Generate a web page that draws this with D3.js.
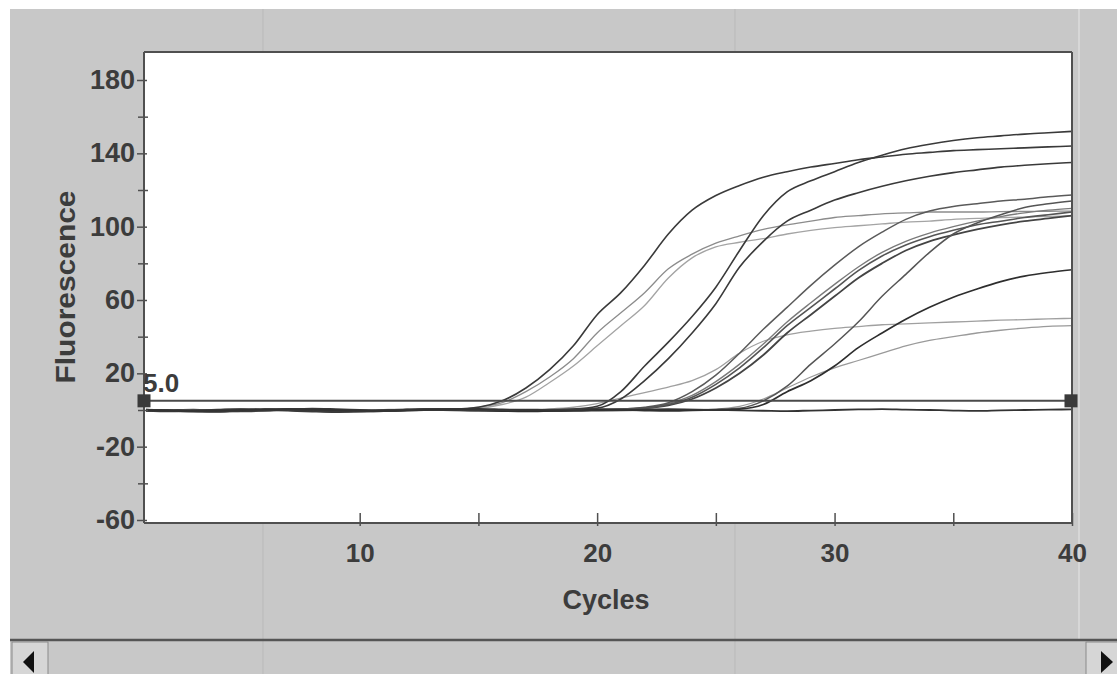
<!DOCTYPE html>
<html><head><meta charset="utf-8">
<script src="https://cdn.jsdelivr.net/npm/d3@7"></script>
<style>html,body{margin:0;padding:0;background:#fff;} svg{display:block}</style>
</head><body>
<svg id="chart" width="1117" height="674"></svg>
<script>
// ---------- data ----------
const cycles = [1,2,3,4,5,6,7,8,9,10,11,12,13,14,15,16,17,18,19,20,21,22,23,24,25,26,27,28,29,30,31,32,33,34,35,36,37,38,39,40];

const yMajorTicks = [-60,-20,20,60,100,140,180];
const yMinorTicks = [-40,0,40,80,120,160];
const xMajorTicks = [10,20,30,40];
const xMinorTicks = [15,25,35];
const threshold = 5.0;
const thresholdLabel = "5.0";

const curveA1 = [0.2,-0.5,-0.8,-1,-0.6,-0.3,0.4,0.8,0.5,0.1,-0.3,0.2,0.4,0.5,1.5,5,12,22,35,52,64,79,96,109,117,122.5,127,130,132.5,134.5,136.5,138,139.5,140.5,141.5,142,142.5,143,143.5,144];
const curveA2 = [-0.3,0.1,-0.6,-0.9,-0.4,0,0.3,0.6,0.2,-0.2,-0.5,0,0.3,0.5,1.5,4,10,18,28,42,53,64,77,85,91,95,98.5,101,103,105,106,107,107.5,108,108,108,108.2,108.3,108.4,108.5];
const curveA3 = [0,-0.4,-0.7,-0.5,-0.2,0.2,0.5,0.3,0,-0.4,-0.2,0.1,0.2,0.5,1,3,7,15,24,35,46,57,72,83,89,91.5,93.5,96,98,99.5,100.5,101.5,102.5,103,104,104.5,105,105.2,105.6,106];
const curveB1 = [-0.5,-0.8,-0.3,0.2,0.5,0.1,-0.4,-0.9,-1.2,-0.8,-0.3,0.2,0.6,0.4,0,-0.3,-0.1,0.2,0.5,2,10,24,37,51,67,87,106,119,125,130,135,139,142.5,145,147,148.5,149.5,150.5,151.2,152];
const curveB2 = [0.3,-0.2,-0.6,-0.4,0,0.4,0.2,-0.3,-0.7,-0.5,0,0.3,0.1,-0.2,-0.4,0,0.3,0.1,0.4,1,6,16,28,42,58,78,92,103,109,114.5,118.5,122,125,127.5,129.5,131,132.5,133.5,134.3,135];
const curveC1 = [-0.2,-0.6,-0.9,-0.5,0,0.3,0.1,-0.2,-0.6,-1,-0.7,-0.2,0.3,0.5,0.2,-0.1,-0.4,-0.2,0.1,0.3,0.5,1.5,4,10,19,31,44,56,68,79,89,97,104,108.5,111,112.5,114,115,116.3,117.3];
const curveC2 = [0.1,-0.3,-0.5,-0.8,-0.4,0.2,0.4,0,-0.5,-0.8,-0.4,0,0.4,0.3,-0.1,-0.5,-0.3,0,0.2,0.4,0.5,1,3,7,14,23,34,46,56,66,76,84,90,94.5,98,101,103,105,106.5,108];
const curveC3 = [-0.4,-0.1,0.2,-0.3,-0.7,-0.4,0,0.3,0.1,-0.3,-0.6,-0.3,0.1,0.4,0,-0.3,-0.6,-0.2,0.1,0.2,0.5,1,2.5,6,12,20,30,42,52,62,72,80,87,92,95.5,98.5,101,103,104.5,106];
const curveC4 = [0.2,0,-0.4,-0.6,-0.3,0.1,0.3,0.1,-0.4,-0.7,-0.5,-0.1,0.2,0.4,0.1,-0.3,-0.5,-0.2,0.2,0.3,0.5,1,3.5,8,15.5,25,36,48,58.5,68.5,78,86,92,96.5,100,103,105.5,107.5,109,110];
const curveC5 = [-0.3,-0.5,-0.2,0.1,0.4,0.2,-0.2,-0.5,-0.9,-0.6,-0.2,0.1,0.3,0.5,0.2,-0.2,-0.5,-0.7,-0.4,0,0.2,0.1,-0.2,0,0.3,1,5,13,25,36,48,62,74,86,96,102,106.5,110.5,112.5,114];
const curveL1 = [0.2,-0.2,-0.5,-0.3,0.1,0.3,0,-0.4,-0.6,-0.3,0,0.2,0.4,0.2,-0.1,-0.3,0,0.5,1.5,3.5,6.5,9.5,12.5,16,22,31,37.5,41,43,44.5,45.5,46.5,47,47.5,48,48.5,49,49.3,49.7,50];
const curveL2 = [-0.1,-0.4,-0.2,0.2,0.4,0.1,-0.3,-0.6,-0.4,-0.1,0.2,0.4,0.2,-0.2,-0.5,-0.3,0,0.3,0.1,-0.2,-0.4,-0.1,0.2,0.3,0.5,2,6,12,18,23,27,31,35,38,40,42,43.5,44.7,45.6,46];
const curveD1 = [0.1,-0.3,-0.6,-0.4,0,0.3,0.5,0.2,-0.2,-0.5,-0.3,0,0.3,0.1,-0.2,-0.6,-0.8,-0.5,-0.1,0.2,0,-0.3,-0.5,-0.2,0.1,0.5,3,10,16,24,34,42,49.5,56,61.5,66,70,73,75,76.5];
const curveNTC = [0,-0.3,-0.6,-0.4,0,0.3,0.5,0.3,0,-0.3,-0.5,-0.2,0.1,0.4,0.6,0.3,0,-0.3,-0.5,-0.3,0,0.2,0.4,0.2,0,-0.2,-0.4,-0.6,-0.3,0,0.3,0.5,0.2,0,-0.3,-0.5,-0.2,0,0.2,0.3];

// draw order: light first, dark on top
const series = [
  {v: curveL2, c: "#9a9a9a", w: 1.3},
  {v: curveL1, c: "#a0a0a0", w: 1.3},
  {v: curveA3, c: "#a4a4a4", w: 1.3},
  {v: curveA2, c: "#8c8c8c", w: 1.3},
  {v: curveC4, c: "#7a7a7a", w: 1.4},
  {v: curveC1, c: "#5a5a5a", w: 1.5},
  {v: curveC3, c: "#444", w: 1.8},
  {v: curveC2, c: "#555", w: 1.6},
  {v: curveC5, c: "#555", w: 1.5},
  {v: curveD1, c: "#2e2e2e", w: 1.7},
  {v: curveB2, c: "#3a3a3a", w: 1.6},
  {v: curveB1, c: "#3a3a3a", w: 1.6},
  {v: curveA1, c: "#3a3a3a", w: 1.6},
  {v: curveNTC, c: "#333", w: 1.8}
];

// ---------- layout ----------
const svg = d3.select("#chart");
const FONT = "'Liberation Sans', Arial, Helvetica, sans-serif";
const TXT = "#3c3c3c";

svg.append("rect").attr("x",10).attr("y",9).attr("width",1107).attr("height",665).attr("fill","#c8c8c8");
// faint scan streaks
[263, 735].forEach(px => svg.append("line").attr("x1",px).attr("x2",px).attr("y1",9).attr("y2",674)
  .attr("stroke","#b9b9b9").attr("stroke-width",1));
svg.append("line").attr("x1",1079).attr("x2",1079).attr("y1",9).attr("y2",640).attr("stroke","#dcdcdc").attr("stroke-width",1.5);

const L = 144, R = 1072, T = 52, B = 523;
const x = d3.scaleLinear().domain([1,40]).range([146,1072]);
const y = d3.scaleLinear().domain([-60,180]).range([520,80]);

svg.append("rect").attr("x",L).attr("y",T).attr("width",R-L).attr("height",B-T).attr("fill","#fff");

// curves
const line = d3.line().x((d,i)=>x(cycles[i])).y(d=>y(d)).curve(d3.curveMonotoneX);
const gC = svg.append("g");
series.forEach(s => gC.append("path").attr("d", line(s.v)).attr("fill","none")
  .attr("stroke", s.c).attr("stroke-width", s.w).attr("stroke-linejoin","round"));

// frame
const frame = svg.append("g").attr("stroke","#505050").attr("stroke-width",2);
frame.append("line").attr("x1",L).attr("x2",R).attr("y1",T).attr("y2",T);
frame.append("line").attr("x1",R).attr("x2",R).attr("y1",T).attr("y2",B);
frame.append("line").attr("x1",L).attr("x2",L).attr("y1",T).attr("y2",B);
frame.append("line").attr("x1",L).attr("x2",R).attr("y1",B).attr("y2",B);

const plainFmt = d => String(d);
function styleAxis(g){
  g.select(".domain").remove();
  g.selectAll("line").attr("stroke","#505050").attr("stroke-width",1.5);
  g.selectAll("text").attr("font-family",FONT).attr("font-weight","bold")
    .attr("font-size",26).attr("fill",TXT);
}
// y axis
const gy = svg.append("g").attr("transform",`translate(${L},0)`)
  .call(d3.axisLeft(y).tickValues(yMajorTicks).tickFormat(plainFmt).tickSize(7).tickPadding(2));
styleAxis(gy); gy.selectAll(".tick line").attr("x1",3);
gy.selectAll(".tick text").attr("font-size",27);
const gy2 = svg.append("g").attr("transform",`translate(${L},0)`)
  .call(d3.axisLeft(y).tickValues(yMinorTicks).tickFormat("").tickSize(6));
styleAxis(gy2); gy2.selectAll(".tick line").attr("x1",4);

// x axis
const gx = svg.append("g").attr("transform",`translate(0,${B})`)
  .call(d3.axisBottom(x).tickValues(xMajorTicks).tickFormat(plainFmt).tickSize(3));
styleAxis(gx); gx.selectAll(".tick line").attr("y1",-10);
gx.selectAll(".tick text").attr("y",21);
const gx2 = svg.append("g").attr("transform",`translate(0,${B})`)
  .call(d3.axisBottom(x).tickValues(xMinorTicks).tickFormat("").tickSize(3));
styleAxis(gx2); gx2.selectAll(".tick line").attr("y1",-10);

// titles
svg.append("text").attr("x",606).attr("y",609).attr("text-anchor","middle")
  .attr("font-family",FONT).attr("font-weight","bold").attr("font-size",27).attr("fill",TXT).text("Cycles");
svg.append("text").attr("transform","translate(75,287) rotate(-90)").attr("text-anchor","middle")
  .attr("font-family",FONT).attr("font-weight","bold").attr("font-size",27).attr("fill",TXT)
  .attr("textLength",193).attr("lengthAdjust","spacingAndGlyphs").text("Fluorescence");

// threshold
const ty = y(threshold);
svg.append("line").attr("x1",L).attr("x2",R).attr("y1",ty).attr("y2",ty).attr("stroke","#4a4a4a").attr("stroke-width",2);
[L, R-1].forEach(px => svg.append("rect").attr("x",px-6.5).attr("y",ty-6.5).attr("width",13).attr("height",13).attr("fill","#3a3a3a"));
svg.append("text").attr("x",143).attr("y",ty-9).attr("font-family",FONT).attr("font-weight","bold")
  .attr("font-size",26).attr("fill",TXT).text(thresholdLabel);

// scrollbar
svg.append("line").attr("x1",10).attr("x2",1117).attr("y1",640).attr("y2",640).attr("stroke","#555").attr("stroke-width",2.5);
svg.append("rect").attr("x",12).attr("y",642).attr("width",36).attr("height",34).attr("fill","#d6d6d6").attr("stroke","#8a8a8a").attr("stroke-width",1);
svg.append("path").attr("d","M23,662 L34,651 L34,673 Z").attr("fill","#111");
svg.append("rect").attr("x",1086).attr("y",642).attr("width",34).attr("height",34).attr("fill","#d6d6d6").attr("stroke","#8a8a8a").attr("stroke-width",1);
svg.append("path").attr("d","M1113,662 L1101,651 L1101,673 Z").attr("fill","#111");
</script>
</body></html>
